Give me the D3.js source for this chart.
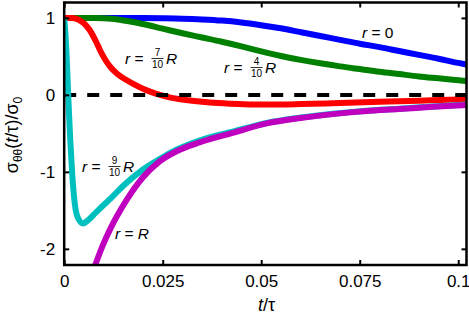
<!DOCTYPE html>
<html><head><meta charset="utf-8">
<script src="https://cdn.jsdelivr.net/npm/d3@7"></script>
<style>
html,body{margin:0;padding:0;background:#fff;overflow:hidden}
svg{display:block;font-family:"Liberation Sans",Arial,sans-serif}
</style></head>
<body>
<svg id="c" width="469" height="317"></svg>
<script>
// ---- data ----
const xTicks = [0, 0.025, 0.05, 0.075, 0.1];
const xTickLabels = ["0", "0.025", "0.05", "0.075", "0.1"];
const yTicks = [-2, -1, 0, 1];
const yTickLabels = ["-2", "-1", "0", "1"];

const tBlue = [0,0.01,0.02,0.025,0.03,0.035,0.04,0.045,0.05,0.055,0.06,0.065,0.07,0.075,0.08,0.085,0.09,0.095,0.1,0.1021];
const vBlue = [1,1,0.998,0.995,0.99,0.98,0.965,0.94,0.905,0.865,0.815,0.765,0.715,0.665,0.62,0.57,0.52,0.47,0.415,0.395];

const tGreen = [0,0.008,0.012,0.016,0.02,0.025,0.03,0.035,0.04,0.045,0.05,0.055,0.06,0.065,0.07,0.075,0.08,0.085,0.09,0.095,0.1,0.1021];
const vGreen = [1,1,0.99,0.96,0.92,0.86,0.8,0.745,0.69,0.63,0.565,0.505,0.455,0.41,0.37,0.335,0.3,0.27,0.24,0.215,0.19,0.18];

const tRed = [0,0.002,0.0035,0.005,0.0065,0.008,0.0091,0.0105,0.0116,0.0135,0.0159,0.018,0.02,0.0225,0.0243,0.027,0.03,0.033,0.037,0.042,0.048,0.055,0.06,0.07,0.08,0.09,0.1,0.1021];
const vRed = [1,1,0.98,0.93,0.84,0.7,0.58,0.45,0.37,0.27,0.19,0.13,0.08,0.03,0,-0.035,-0.06,-0.08,-0.1,-0.115,-0.125,-0.125,-0.12,-0.105,-0.09,-0.075,-0.06,-0.057];

const tCyan = [0,0.0003,0.0007,0.0011,0.0015,0.002,0.0027,0.0035,0.0048,0.006,0.008,0.01,0.0117,0.015,0.02,0.025,0.0286,0.0345,0.043,0.0514,0.06,0.0682,0.0768,0.085,0.0936,0.1022];
const vCyan = [1,0.8,0.4,-0.1,-0.55,-1.0,-1.42,-1.6,-1.67,-1.63,-1.53,-1.43,-1.35,-1.18,-0.97,-0.81,-0.71,-0.59,-0.475,-0.365,-0.295,-0.245,-0.205,-0.18,-0.15,-0.125];

const tMag = [0.007,0.0078,0.01,0.0117,0.0159,0.02,0.0243,0.0286,0.0345,0.043,0.0514,0.06,0.0682,0.0768,0.085,0.0936,0.1022];
const vMag = [-2.33,-2.22,-1.93,-1.74,-1.36,-1.07,-0.86,-0.73,-0.615,-0.49,-0.37,-0.3,-0.25,-0.21,-0.185,-0.155,-0.13];

const xDomain = [0, 0.1021];
const yDomain = [-2.21, 1.2];

// ---- layout ----
const svg = d3.select("#c");
const L = 64.2, R = 466.5, T = 2.5, B = 265;
const x = d3.scaleLinear().domain(xDomain).range([L, R]);
const y = d3.scaleLinear().domain(yDomain).range([B, T]);

svg.append("defs").append("clipPath").attr("id","clip")
  .append("rect").attr("x",L).attr("y",T).attr("width",R-L).attr("height",B-T);

const line = d3.line().x(d=>x(d[0])).y(d=>y(d[1])).curve(d3.curveMonotoneX);
const zip = (a,b)=>a.map((t,i)=>[t,b[i]]);

const g = svg.append("g").attr("clip-path","url(#clip)");
const series = [
  [tBlue,vBlue,"#0000ff"],
  [tGreen,vGreen,"#008000"],
  [tRed,vRed,"#ff0000"],
];
series.forEach(s=>{
  g.append("path").attr("d",line(zip(s[0],s[1]))).attr("fill","none")
   .attr("stroke",s[2]).attr("stroke-width",6).attr("stroke-linejoin","round");
});
// zero dashed line
g.append("path").attr("d",line([[xDomain[0],0],[xDomain[1],0]]))
  .attr("stroke","#000").attr("stroke-width",4).attr("stroke-dasharray","12,11").attr("fill","none");
[[tCyan,vCyan,"#00bfbf"],[tMag,vMag,"#bf00bf"]].forEach(s=>{
  g.append("path").attr("d",line(zip(s[0],s[1]))).attr("fill","none")
   .attr("stroke",s[2]).attr("stroke-width",6).attr("stroke-linejoin","round");
});

// ---- axes ----
const fs = 17;
const fmtX = d=>xTickLabels[xTicks.indexOf(d)];
const fmtY = d=>yTickLabels[yTicks.indexOf(d)];
function styleAxis(sel){
  sel.select(".domain").remove();
  sel.selectAll(".tick line").attr("stroke","#000").attr("stroke-width",2);
  sel.selectAll("text").attr("font-size",fs).attr("fill","#000").attr("font-family","'Liberation Sans',Arial,sans-serif");
}
svg.append("g").attr("transform",`translate(0,${B})`)
  .call(d3.axisBottom(x).tickValues(xTicks).tickFormat(fmtX).tickSizeInner(-5).tickSizeOuter(0).tickPadding(10))
  .call(styleAxis);
svg.append("g").attr("transform",`translate(0,${T})`)
  .call(d3.axisTop(x).tickValues(xTicks).tickFormat("").tickSizeInner(-5).tickSizeOuter(0))
  .call(styleAxis);
svg.append("g").attr("transform",`translate(${L},0)`)
  .call(d3.axisLeft(y).tickValues(yTicks).tickFormat(fmtY).tickSizeInner(-5).tickSizeOuter(0).tickPadding(9))
  .call(styleAxis);
svg.append("g").attr("transform",`translate(${R},0)`)
  .call(d3.axisRight(y).tickValues(yTicks).tickFormat("").tickSizeInner(-5).tickSizeOuter(0))
  .call(styleAxis);

svg.append("rect").attr("x",L).attr("y",T).attr("width",R-L).attr("height",B-T)
  .attr("fill","none").attr("stroke","#000").attr("stroke-width",2.5);

// ---- axis titles ----
const xt = svg.append("text").attr("x",266.5).attr("y",311).attr("text-anchor","middle").attr("font-size",18);
xt.append("tspan").attr("font-style","italic").text("t");
xt.append("tspan").text("/");
xt.append("tspan").text("τ");

const yt = svg.append("text").attr("transform","translate(18,135) rotate(-90)").attr("text-anchor","middle").attr("font-size",18);
yt.append("tspan").text("σ");
yt.append("tspan").attr("font-size",12).attr("dy",4).text("θθ");
yt.append("tspan").attr("dy",-4).text("(");
yt.append("tspan").attr("font-style","italic").text("t");
yt.append("tspan").text("/τ)/σ");
yt.append("tspan").attr("font-size",12).attr("dy",4).text("0");

// ---- curve labels ----
const lfs = 15.5;
function label(x0, base, frac){
  const t = svg.append("text").attr("x",x0).attr("y",base).attr("font-size",lfs);
  t.append("tspan").attr("font-style","italic").text("r");
  t.append("tspan").text(" = ");
  if(!frac){ return t; }
  if(frac==="R"){ t.append("tspan").attr("font-style","italic").text("R"); return t; }
  if(frac==="0"){ t.append("tspan").text("0"); return t; }
  const fx = x0 + 26, fw = 13;
  svg.append("text").attr("x",fx+fw/2).attr("y",base-8).attr("text-anchor","middle").attr("font-size",10).text(frac[0]);
  svg.append("text").attr("x",fx+fw/2).attr("y",base+4).attr("text-anchor","middle").attr("font-size",10).text(frac[1]);
  svg.append("line").attr("x1",fx+0.5).attr("x2",fx+fw-0.5).attr("y1",base-5.5).attr("y2",base-5.5).attr("stroke","#000").attr("stroke-width",0.8);
  svg.append("text").attr("x",fx+fw+2).attr("y",base).attr("font-size",lfs).attr("font-style","italic").text("R");
  return t;
}
label(362, 38, "0");
label(125, 64, ["7","10"]);
label(224, 73, ["4","10"]);
label(82, 172, ["9","10"]);
label(115, 239, "R");
</script>
</body></html>
